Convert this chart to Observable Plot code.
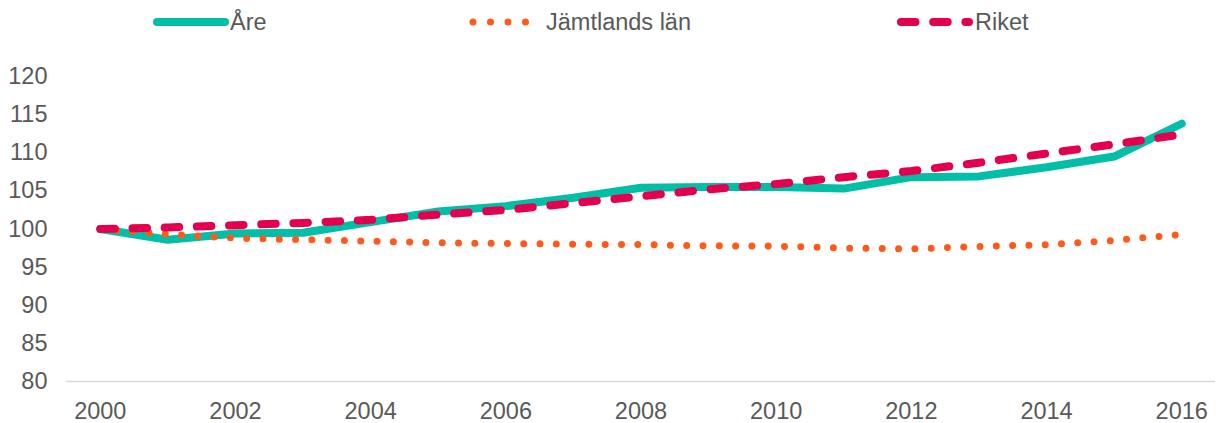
<!DOCTYPE html>
<html>
<head>
<meta charset="utf-8">
<script src="https://cdn.jsdelivr.net/npm/d3@7"></script>
<script src="https://cdn.jsdelivr.net/npm/@observablehq/plot@0.6"></script>
<style>
  html, body { margin: 0; padding: 0; background: #fff; }
  #wrap { width: 1221px; height: 423px; position: relative; overflow: hidden; font-family: "Liberation Sans", Arial, sans-serif; }
  #legend { position: relative; width: 1221px; height: 45px; }
  .item { position: absolute; top: 0; height: 45px; }
  .item svg { position: absolute; top: 0; left: 0; }
  .item span { position: absolute; top: 9px; font-size: 23.5px; color: #595959; line-height: 26px; white-space: nowrap; }
</style>
</head>
<body>
<div id="wrap">
  <div id="legend"></div>
  <div id="chart"></div>
</div>
<script>
const years = [2000, 2001, 2002, 2003, 2004, 2005, 2006, 2007, 2008, 2009, 2010, 2011, 2012, 2013, 2014, 2015, 2016];
const areValues = [100, 98.6, 99.4, 99.5, 100.9, 102.3, 103.0, 104.1, 105.4, 105.5, 105.5, 105.3, 106.8, 106.9, 108.1, 109.5, 113.8];
const jamtlandValues = [100, 99.3, 98.8, 98.6, 98.4, 98.2, 98.1, 98.0, 97.95, 97.8, 97.75, 97.5, 97.4, 97.7, 97.95, 98.5, 99.3];
const riketValues = [100, 100.2, 100.5, 100.8, 101.2, 101.9, 102.5, 103.4, 104.3, 105.2, 105.9, 106.8, 107.6, 108.7, 109.9, 111.1, 112.4];
const seriesNames = ["Åre", "Jämtlands län", "Riket"];
const xTicks = [2000, 2002, 2004, 2006, 2008, 2010, 2012, 2014, 2016];
const yTicks = [80, 85, 90, 95, 100, 105, 110, 115, 120];

const teal = "#00bfa6", orange = "#ff5a1a", crimson = "#e2004f";
const toRows = vals => years.map((y, i) => ({year: y, value: vals[i]}));

const chart = Plot.plot({
  width: 1221,
  height: 378,
  marginLeft: 66,
  marginRight: 6,
  marginTop: 31,
  marginBottom: 42,
  style: {fontFamily: "'Liberation Sans', Arial, sans-serif", fontSize: "23.5px", color: "#595959", background: "white", overflow: "visible"},
  x: {domain: [1999.5, 2016.5], ticks: xTicks, tickFormat: d => String(d), tickSize: 0, tickPadding: 21, label: null},
  y: {domain: [80, 120], ticks: yTicks, tickSize: 0, tickPadding: 19, label: null},
  marks: [
    Plot.ruleY([80], {stroke: "#d9d9d9", strokeWidth: 1.5}),
    Plot.line(toRows(areValues), {x: "year", y: "value", stroke: teal, strokeWidth: 8, strokeLinecap: "round", strokeLinejoin: "round"}),
    Plot.line(toRows(jamtlandValues), {x: "year", y: "value", stroke: orange, strokeWidth: 7, strokeLinecap: "round", strokeDasharray: "0 16.3"}),
    Plot.line(toRows(riketValues), {x: "year", y: "value", stroke: crimson, strokeWidth: 8, strokeLinecap: "round", strokeDasharray: "14.5 17.7"})
  ]
});
document.getElementById("chart").appendChild(chart);

// Legend
const legend = document.getElementById("legend");
const legendItems = [
  {name: seriesNames[0], color: teal, width: 8, dash: null, swatchLeft: 153, textLeft: 230},
  {name: seriesNames[1], color: orange, width: 7, dash: "0 17.5", swatchLeft: 469, textLeft: 546},
  {name: seriesNames[2], color: crimson, width: 8, dash: "14.5 17.7", swatchLeft: 897, textLeft: 975}
];
legendItems.forEach(it => {
  const div = document.createElement("div");
  div.className = "item";
  div.style.left = "0px";
  div.style.width = "1221px";
  const ns = "http://www.w3.org/2000/svg";
  const svg = document.createElementNS(ns, "svg");
  svg.setAttribute("width", 1221);
  svg.setAttribute("height", 45);
  const line = document.createElementNS(ns, "line");
  line.setAttribute("x1", it.swatchLeft + 4);
  line.setAttribute("x2", it.swatchLeft + 72);
  line.setAttribute("y1", 22);
  line.setAttribute("y2", 22);
  line.setAttribute("stroke", it.color);
  line.setAttribute("stroke-width", it.width);
  line.setAttribute("stroke-linecap", "round");
  if (it.dash) line.setAttribute("stroke-dasharray", it.dash);
  svg.appendChild(line);
  div.appendChild(svg);
  const span = document.createElement("span");
  span.textContent = it.name;
  span.style.left = it.textLeft + "px";
  div.appendChild(span);
  legend.appendChild(div);
});
</script>
</body>
</html>
